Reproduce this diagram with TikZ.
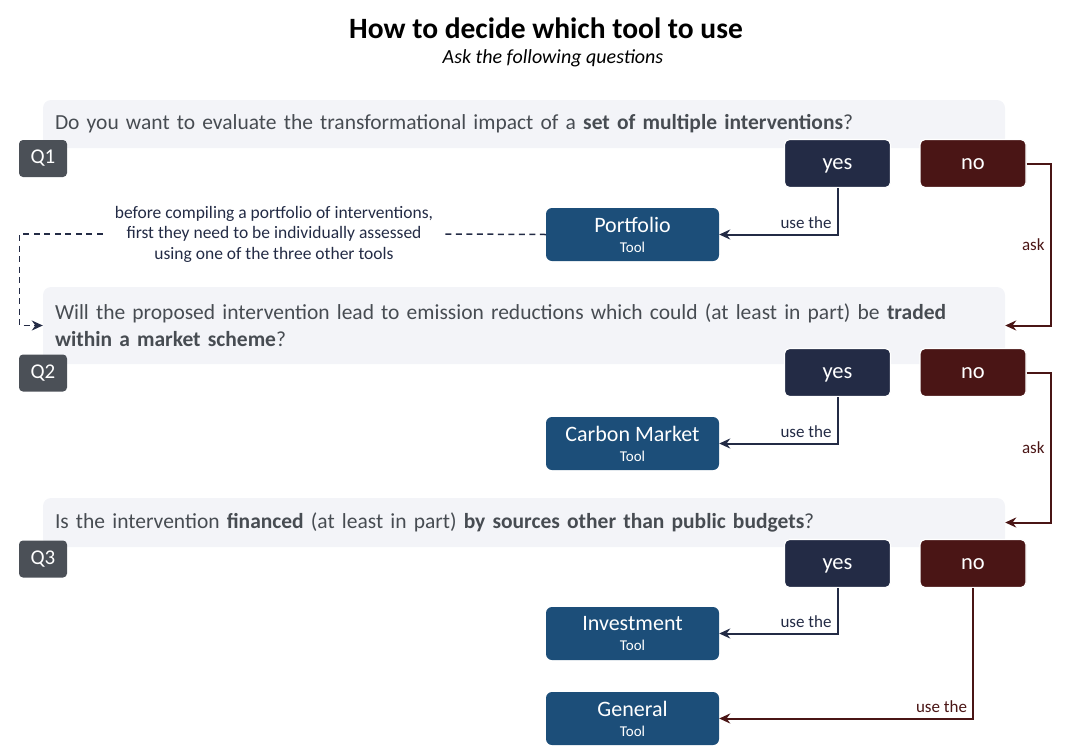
\documentclass[tikz,border=0pt]{standalone}
\usepackage{fontspec}
\setmainfont{Carlito}
\usetikzlibrary{positioning,arrows.meta}
\definecolor{bandgrey}{HTML}{F3F4F8}
\definecolor{qtext}{HTML}{474C52}
\definecolor{labgrey}{HTML}{4B5057}
\definecolor{yesblue}{HTML}{232B45}
\definecolor{nored}{HTML}{4A1515}
\definecolor{toolblue}{HTML}{1C4E79}
\tikzset{
  band/.style={fill=bandgrey, rounded corners=8pt, minimum width=962pt, text width=938pt,
    inner xsep=12pt, align=left, text=qtext, font=\fontsize{21.5}{27}\selectfont},
  qlabel/.style={fill=labgrey, rounded corners=4pt, minimum width=48pt, minimum height=37pt,
    text=white, font=\fontsize{21}{22}\selectfont},
  answer/.style={draw=white, line width=1.2pt, rounded corners=5pt, minimum width=106pt,
    minimum height=48pt, text height=15pt, text depth=4pt, text=white, font=\fontsize{22.5}{24}\selectfont},
  yesbox/.style={answer, fill=yesblue},
  nobox/.style={answer, fill=nored},
  toolbox/.style={fill=toolblue, rounded corners=6pt, minimum width=173pt, minimum height=53pt,
    text=white, align=center, font=\fontsize{22}{20}\selectfont},
  uselink/.style={->, >={Stealth[length=11pt,width=10pt]}, line width=2pt, draw=yesblue},
  asklink/.style={->, >={Stealth[length=11pt,width=10pt]}, line width=2pt, draw=nored},
  notelink/.style={line width=1.5pt, draw=yesblue, dash pattern=on 6pt off 4.5pt},
  linklabel/.style={font=\fontsize{17}{19}\selectfont, inner sep=5pt}
}
\newcommand{\tooltext}[1]{#1\\[0pt]{\fontsize{15}{16}\selectfont Tool}}
\begin{document}
\begin{tikzpicture}[x=1pt,y=-1pt]
\useasboundingbox (0,0) rectangle (1081,750);
\node (title) at (546,28) {\fontsize{29.5}{32}\selectfont\bfseries How to decide which tool to use};
\node (subtitle) at (553,58) {\fontsize{20}{22}\selectfont\itshape Ask the following questions};

% question bands
\node[band, minimum height=48pt] (q1band) at (524,124)
  {Do you want to evaluate the transformational impact of a \textbf{set of multiple interventions}?};
\node[band, minimum height=77pt] (q2band) at (524,325.5)
  {Will the proposed intervention lead to emission reductions which could (at least in part) be \textbf{traded}\\ \textbf{within a market scheme}?};
\node[band, minimum height=49pt] (q3band) at (524,522.5)
  {Is the intervention \textbf{financed} (at least in part) \textbf{by sources other than public budgets}?};

\node[qlabel] (q1lab) at (43,158.5) {Q1};
\node[qlabel] (q2lab) at (43,373) {Q2};
\node[qlabel] (q3lab) at (43,559) {Q3};

% answers
\node[yesbox] (yes1) at (837.5,163.5) {yes};
\node[nobox] (no1) at (973,163.5) {no};
\node[yesbox] (yes2) at (837.5,372.5) {yes};
\node[nobox] (no2) at (973,372.5) {no};
\node[yesbox] (yes3) at (837.5,563.5) {yes};
\node[nobox] (no3) at (973,563.5) {no};

% tools
\node[toolbox] (portfolio) at (632.5,234.5) {\tooltext{Portfolio}};
\node[toolbox] (carbon) at (632.5,443.5) {\tooltext{Carbon Market}};
\node[toolbox] (invest) at (632.5,633.5) {\tooltext{Investment}};
\node[toolbox] (general) at (632.5,718.5) {\tooltext{General}};

\node[align=center, text=yesblue, font=\fontsize{17.5}{20.5}\selectfont, inner xsep=12pt] (note) at (274,234)
  {before compiling a portfolio of interventions,\\ first they need to be individually assessed\\ using one of the three other tools};

% connectors
\draw[uselink] (yes1.south) |- node[pos=0.5, above left, linklabel, text=yesblue] {use the} (portfolio.east);
\draw[uselink] (yes2.south) |- node[pos=0.5, above left, linklabel, text=yesblue] {use the} (carbon.east);
\draw[uselink] (yes3.south) |- node[pos=0.5, above left, linklabel, text=yesblue] {use the} (invest.east);
\draw[asklink] (no3.south) |- node[pos=0.5, above left, linklabel, text=nored] {use the} (general.east);
\draw[asklink] (no1.east) -- ++(24,0) |- node[pos=0.25, left, linklabel, text=nored] {ask} (q2band.east);
\draw[asklink] (no2.east) -- ++(24,0) |- node[pos=0.25, left, linklabel, text=nored] {ask} (q3band.east);
\draw[notelink] (portfolio.west) -- (note.east);
\draw[notelink, ->, >={Stealth[length=11pt,width=10pt]}] (note.west) -- ++(-83,0) |- (q2band.west);
\end{tikzpicture}
\end{document}
